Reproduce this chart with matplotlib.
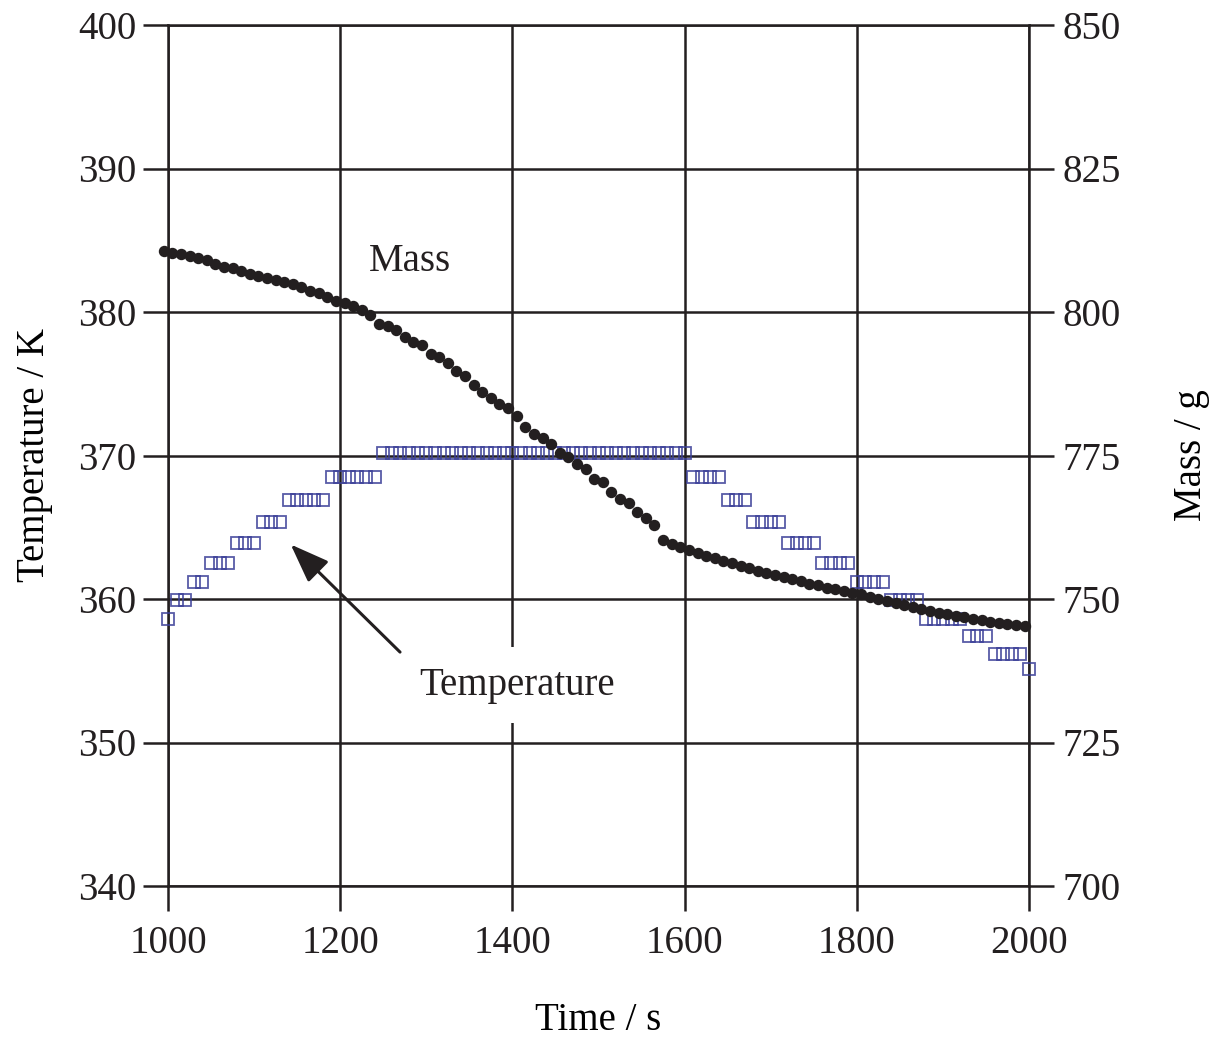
import numpy as np
import matplotlib
matplotlib.use('Agg')
import matplotlib.pyplot as plt

# tiempos de muestreo (s)
time_temp = np.arange(1000, 2001, 10)
time_mass = np.arange(995, 1996, 10)

# temperatura (K), escalonada
temperature = [
    358.6,
    359.9, 359.9,
    361.2, 361.2,
    362.5, 362.5, 362.5,
    363.9, 363.9, 363.9,
    365.4, 365.4, 365.4,
    366.9, 366.9, 366.9, 366.9, 366.9,
    368.5, 368.5, 368.5, 368.5, 368.5, 368.5,
    370.2, 370.2, 370.2, 370.2, 370.2, 370.2, 370.2, 370.2, 370.2, 370.2, 370.2, 370.2,
    370.2, 370.2, 370.2, 370.2, 370.2, 370.2, 370.2, 370.2, 370.2, 370.2, 370.2, 370.2,
    370.2, 370.2, 370.2, 370.2, 370.2, 370.2, 370.2, 370.2, 370.2, 370.2, 370.2, 370.2,
    368.5, 368.5, 368.5, 368.5,
    366.9, 366.9, 366.9,
    365.4, 365.4, 365.4, 365.4,
    363.9, 363.9, 363.9, 363.9,
    362.5, 362.5, 362.5, 362.5,
    361.2, 361.2, 361.2, 361.2,
    359.9, 359.9, 359.9, 359.9,
    358.6, 358.6, 358.6, 358.6, 358.6,
    357.4, 357.4, 357.4,
    356.2, 356.2, 356.2, 356.2,
    355.1,
]

# masa (g)
mass = [
    810.7, 810.2, 810.1, 809.8, 809.4, 809.1, 808.4, 807.9, 807.6, 807.2,
    806.7, 806.3, 806.0, 805.5, 805.2, 804.8, 804.3, 803.7, 803.3, 802.7,
    802.0, 801.5, 801.1, 800.3, 799.4, 797.9, 797.5, 796.8, 795.7, 794.7,
    794.3, 792.7, 792.2, 791.1, 789.8, 788.8, 787.2, 786.0, 785.1, 784.0,
    783.2, 781.8, 779.9, 778.7, 778.0, 777.0, 775.4, 774.8, 773.5, 772.6,
    770.9, 770.3, 768.7, 767.4, 766.7, 765.2, 764.1, 762.9, 760.3, 759.6,
    759.0, 758.5, 758.0, 757.5, 757.1, 756.6, 756.2, 755.8, 755.4, 754.9,
    754.5, 754.1, 753.8, 753.4, 753.1, 752.7, 752.4, 752.0, 751.7, 751.4,
    751.0, 750.8, 750.4, 750.0, 749.7, 749.3, 748.9, 748.6, 748.2, 747.9,
    747.6, 747.3, 747.1, 746.8, 746.6, 746.3, 746.0, 745.9, 745.6, 745.5,
    745.3,
]

ink = '#231f20'
blue = '#3b3f98'

plt.rcParams['font.family'] = ['Liberation Serif', 'DejaVu Serif']
plt.rcParams['font.size'] = 28
plt.rcParams['text.color'] = ink

fig = plt.figure(figsize=(12.17, 10.39), dpi=100)
ax = fig.add_axes([168 / 1217, 1 - 886 / 1039, (1029 - 168) / 1217, 861 / 1039])
ax2 = ax.twinx()

ax.plot(time_temp, temperature, linestyle='none', marker='s', markersize=8.4,
        markerfacecolor='none', markeredgecolor=blue, markeredgewidth=1.3,
        alpha=0.85, zorder=3, clip_on=False)
ax2.plot(time_mass, mass, linestyle='none', marker='o', markersize=7.2,
         color=ink, zorder=3, clip_on=False)

ax.set_xlim(1000, 2000)
ax.set_ylim(340, 400)
ax2.set_ylim(700, 850)
ax.set_xticks([1000, 1200, 1400, 1600, 1800, 2000])
ax.set_yticks([340, 350, 360, 370, 380, 390, 400])
ax2.set_yticks([700, 725, 750, 775, 800, 825, 850])

# los bordes hacen de lineas de la rejilla
for s in ax.spines.values():
    s.set_color(ink)
    s.set_linewidth(1.8)
for s in ax2.spines.values():
    s.set_visible(False)

ax.grid(True, color=ink, linewidth=1.8, zorder=0)
ax.set_axisbelow(True)
ax.tick_params(axis='x', direction='out', length=18, width=1.8, color=ink,
               pad=10, labelsize=28, labelcolor=ink)
ax.tick_params(axis='y', direction='out', length=18, width=1.8, color=ink,
               pad=5, labelsize=28, labelcolor=ink)
ax2.tick_params(axis='y', direction='out', length=18, width=1.8, color=ink,
                pad=6, labelsize=28, labelcolor=ink)

ax.set_xlabel('Time / s', fontsize=28, labelpad=29)
ax.set_ylabel('Temperature / K', fontsize=28, labelpad=18)
ax2.set_ylabel('Mass / g', fontsize=28, labelpad=38)

ax.text(1281, 383.5, 'Mass', ha='center', va='center', fontsize=28, zorder=5)
ax.text(1405, 354.0, 'Temperature', ha='center', va='center', fontsize=28,
        bbox=dict(facecolor='white', edgecolor='none', pad=14), zorder=4)
ax.annotate('', xy=(1142.5, 363.8), xytext=(1269.5, 356.3),
            arrowprops=dict(arrowstyle='-|>,head_length=1.2,head_width=0.45',
                            color=ink, lw=2.2, shrinkA=0, shrinkB=0,
                            mutation_scale=20),
            zorder=6)

fig.savefig('out.png', dpi=100)
